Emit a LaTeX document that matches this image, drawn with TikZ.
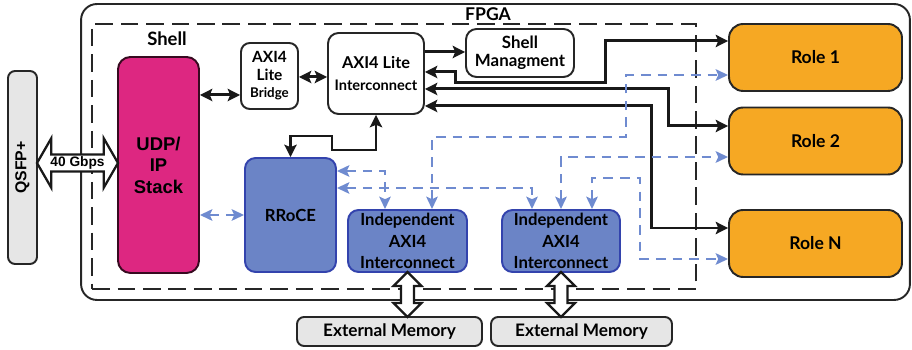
\documentclass[tikz,border=0pt]{standalone}
\usepackage{fontspec}
\setmainfont{Lato}
\newfontfamily\arialfont{Liberation Sans}
\usetikzlibrary{arrows.meta,shapes.arrows,calc}
\definecolor{udpmag}{HTML}{DD2781}
\definecolor{rocefill}{HTML}{6B84C6}
\definecolor{roceline}{HTML}{3343AD}
\definecolor{roleorange}{HTML}{F6A823}
\definecolor{boxgray}{HTML}{E6E6E6}
\definecolor{dashblue}{HTML}{6F8BD0}
\tikzset{
  blk/.style={draw=black!85, line width=1.1pt, rounded corners=5pt, align=center, inner sep=0pt, font=\bfseries},
  whiteblk/.style={blk, fill=white},
  blueblk/.style={blk, draw=roceline, fill=rocefill, rounded corners=6pt, font=\fontsize{9.5}{12.3}\selectfont\bfseries},
  roleblk/.style={blk, fill=roleorange, rounded corners=8pt, minimum width=3.46cm, minimum height=1.34cm, font=\fontsize{10}{12}\selectfont\bfseries},
  grayblk/.style={blk, fill=boxgray, rounded corners=4pt},
  blink/.style={line width=1.7pt, black!90, {Stealth[length=7pt,width=7pt,inset=1.4pt]}-{Stealth[length=7pt,width=7pt,inset=1.4pt]}},
  bto/.style={line width=1.7pt, black!90, -{Stealth[length=7pt,width=7pt,inset=1.4pt]}},
  dlink/.style={line width=1.5pt, dashblue, dash pattern=on 5.5pt off 4pt, {Stealth[length=7pt,width=6.5pt,inset=1.4pt]}-{Stealth[length=7pt,width=6.5pt,inset=1.4pt]}},
  fatarrow/.style={double arrow, draw=black!90, fill=white, line width=1.3pt, inner sep=0pt}
}
\begin{document}
\begin{tikzpicture}[x=0.02cm,y=-0.02cm]
\useasboundingbox (0,0) rectangle (912,350);
\node[draw=black!85, line width=1.1pt, rounded corners=9pt, minimum width=16.58cm, minimum height=5.92cm] (fpga) at (495.5,152) {};
\node[font=\fontsize{10}{12}\selectfont\bfseries] (fpgatitle) at (488,14) {FPGA};
\node[draw=black!85, line width=1.1pt, dash pattern=on 10pt off 4.5pt, minimum width=12.08cm, minimum height=5.3cm] (shell) at (394,156.5) {};
\node[font=\fontsize{10.5}{12}\selectfont\bfseries] (shelltitle) at (167,39) {Shell};

\node[grayblk, rotate=90, minimum width=3.86cm, minimum height=0.58cm, font=\arialfont\bfseries\fontsize{9}{10}\selectfont] (qsfp) at (22.5,167.5) {QSFP+};
\node[blk, fill=udpmag, draw=black!75!udpmag, rounded corners=7pt, minimum width=1.62cm, minimum height=4.32cm, font=\arialfont\bfseries\fontsize{10.5}{12.2}\selectfont] (udp) at (158.5,165) {UDP/\\IP\\Stack};
\node[whiteblk, minimum width=1.14cm, minimum height=1.32cm, font=\fontsize{8.8}{10}\selectfont\bfseries] (bridge) at (269.5,76) {AXI4\\Lite\\{\fontsize{7.6}{10}\selectfont Bridge}};
\node[whiteblk, rounded corners=6pt, minimum width=1.92cm, minimum height=1.62cm] (axil) at (376,73.5) {{\fontsize{9.3}{11}\selectfont AXI4 Lite}\\{\fontsize{8.3}{10.5}\selectfont Interconnect}};
\node[whiteblk, rounded corners=6pt, minimum width=2.16cm, minimum height=0.96cm, font=\fontsize{9.6}{10.5}\selectfont\bfseries] (shellm) at (520,53) {Shell\\Managment};

\node[roleblk] (role1) at (815.5,57.5) {Role 1};
\node[roleblk] (role2) at (815.5,141) {Role 2};
\node[roleblk] (rolen) at (815.5,243.5) {Role N};

\node[blueblk, minimum width=1.82cm, minimum height=2.28cm] (rroce) at (290.5,215) {RRoCE};
\node[blueblk, minimum width=2.38cm, minimum height=1.24cm] (ind1) at (407.5,241) {Independent\\AXI4\\Interconnect};
\node[blueblk, minimum width=2.36cm, minimum height=1.24cm] (ind2) at (561,241) {Independent\\AXI4\\Interconnect};

\node[grayblk, minimum width=3.7cm, minimum height=0.58cm, font=\fontsize{9.8}{10}\selectfont\bfseries] (ext1) at (389.5,331.5) {External Memory};
\node[grayblk, minimum width=3.62cm, minimum height=0.58cm, font=\fontsize{9.8}{10}\selectfont\bfseries] (ext2) at (581.5,331.5) {External Memory};

\node[fatarrow, minimum height=1.62cm, minimum width=0.94cm, double arrow head extend=0.32cm, double arrow tip angle=120, inner xsep=1pt, inner ysep=0.6pt, font=\arialfont\bfseries\fontsize{7.8}{8}\selectfont] (gbps) at ($(qsfp.south |- 0,163)!.5!(udp.west |- 0,163)$) {40 Gbps};
\node[fatarrow, shape border rotate=90, minimum height=0.9cm, minimum width=0.5cm, double arrow head extend=0.15cm, double arrow tip angle=90, inner sep=3pt] (mem1) at ($(ind1.south)!.5!(ind1.south |- ext1.north)$) {};
\node[fatarrow, shape border rotate=90, minimum height=0.9cm, minimum width=0.5cm, double arrow head extend=0.15cm, double arrow tip angle=90, inner sep=3pt] (mem2) at ($(ind2.south)!.5!(ind2.south |- ext2.north)$) {};

\draw[blink] (udp.east |- 0,95) -- (bridge.west |- 0,95);
\draw[blink] (bridge.east |- 0,77) -- (axil.west |- 0,77);
\draw[bto] (axil.east |- 0,52) -- (shellm.west |- 0,52);
\draw[blink] (axil.east |- 0,72) -| (455,83) -| (605,41) -- (role1.west |- 0,41);
\draw[blink] (axil.east |- 0,89) -| (668,126) -- (role2.west |- 0,126);
\draw[blink] (axil.east |- 0,106) -| (651,228) -- (rolen.west |- 0,228);
\draw[blink] (rroce.north) |- (332,136) |- (376,150) -- (axil.south);

\draw[dlink] (udp.east |- rroce.west) -- (rroce.west);
\draw[dlink] (rroce.east |- 0,171) -| (385,0 |- ind1.north);
\draw[dlink] (rroce.east |- 0,188) -| (532,0 |- ind2.north);
\draw[dlink] (432,0 |- ind1.north) |- (626,137) |- (role1.west |- 0,75);
\draw[dlink] (ind2.north) |- (role2.west |- 0,157);
\draw[dlink] (592,0 |- ind2.north) |- (640,178) |- (rolen.west |- 0,259);
\end{tikzpicture}
\end{document}
